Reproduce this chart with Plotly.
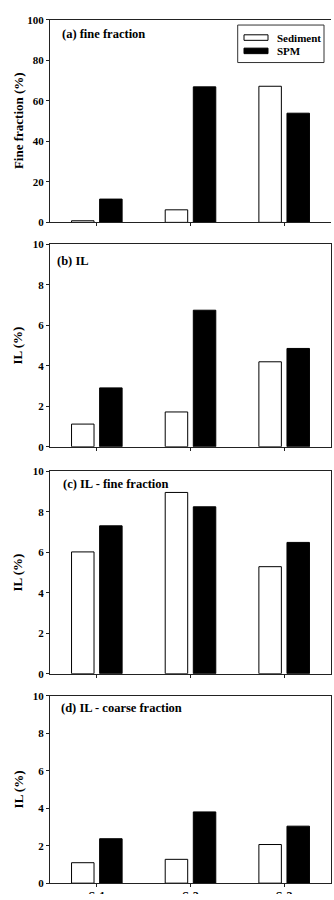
import plotly.graph_objects as go

categories = ["S-1", "S-2", "S-3"]
series_names = ["Sediment", "SPM"]

fine_fraction_sed = [0.8, 6.2, 67.2]
fine_fraction_spm = [11.5, 66.9, 53.9]
il_sed = [1.12, 1.72, 4.20]
il_spm = [2.91, 6.75, 4.86]
il_fine_sed = [6.02, 8.96, 5.29]
il_fine_spm = [7.31, 8.25, 6.49]
il_coarse_sed = [1.09, 1.27, 2.06]
il_coarse_spm = [2.37, 3.80, 3.04]

panel_titles = ["(a) fine fraction", "(b) IL", "(c) IL - fine fraction", "(d) IL - coarse fraction"]
y_titles = ["Fine fraction (%)", "IL (%)", "IL (%)", "IL (%)"]
y_ticks = [[0, 20, 40, 60, 80, 100], [0, 2, 4, 6, 8, 10], [0, 2, 4, 6, 8, 10], [0, 2, 4, 6, 8, 10]]
y_ranges = [[0, 100], [0, 10], [0, 10], [0, 10]]

panels = [
    (fine_fraction_sed, fine_fraction_spm),
    (il_sed, il_spm),
    (il_fine_sed, il_fine_spm),
    (il_coarse_sed, il_coarse_spm),
]

W, H = 334, 900
L, R = 50, 3
# pixel top/bottom of each panel
panel_px = [(14, 219.3), (241.7, 446.7), (471.7, 676.7), (699, 889)]
title_px = [(59.5, 28), (55, 258.5), (60.5, 484.3), (58.5, 711.7)]

FONT = "Liberation Serif"

fig = go.Figure()
layout = dict(
    width=W, height=H,
    margin=dict(l=L, r=R, t=0, b=0),
    paper_bgcolor="white", plot_bgcolor="white",
    showlegend=False, barmode="overlay",
    font=dict(family=FONT, size=11, color="black", weight="bold"),
)
annotations = []
shapes = []

for i, (sed, spm) in enumerate(panels):
    n = i + 1
    xa = "x" if n == 1 else f"x{n}"
    ya = "y" if n == 1 else f"y{n}"
    fig.add_trace(go.Bar(x=categories, y=sed, name=series_names[0], xaxis=xa, yaxis=ya,
                         width=0.24, offset=-0.27,
                         marker=dict(color="white", line=dict(color="black", width=1))))
    fig.add_trace(go.Bar(x=categories, y=spm, name=series_names[1], xaxis=xa, yaxis=ya,
                         width=0.24, offset=0.03,
                         marker=dict(color="black", line=dict(color="black", width=1))))
    top, bot = panel_px[i]
    dom = [1 - bot / H, 1 - top / H]
    layout[f"xaxis{'' if n == 1 else n}"] = dict(
        domain=[0, 1], anchor=ya, range=[-0.5, 2.5], type="category",
        showline=True, linecolor="#222", linewidth=1, mirror=True,
        ticks="outside", ticklen=3, tickcolor="#222", tickwidth=1,
        showgrid=False, zeroline=False, fixedrange=True,
        showticklabels=False,
    )
    layout[f"yaxis{'' if n == 1 else n}"] = dict(
        domain=dom, anchor=xa, range=y_ranges[i], tickvals=y_ticks[i],
        showline=True, linecolor="#222", linewidth=1, mirror=(n != 1),
        ticks="outside", ticklen=3, tickcolor="#222", tickwidth=1,
        showgrid=False, zeroline=False, fixedrange=True,
        tickfont=dict(size=11, family=FONT, weight="bold"),
    )
    tx, ty = title_px[i]
    annotations.append(dict(
        text=panel_titles[i], xref="paper", yref="paper",
        x=(tx - L) / (W - L - R), y=1 - ty / H, xanchor="left", yanchor="middle",
        showarrow=False, font=dict(size=12.5, family=FONT, weight="bold"),
    ))
    annotations.append(dict(
        text=y_titles[i], xref="paper", yref="paper", textangle=-90,
        x=(18 - L) / (W - L - R), y=1 - (top + bot) / 2 / H, xanchor="center", yanchor="middle",
        showarrow=False, font=dict(size=13, family=FONT, weight="bold"),
    ))

# category labels of the bottom panel: only their tops fall inside the page,
# drawn in a thin strip clipped at the page bottom
strip_top = 894
fig.add_trace(go.Scatter(x=categories, y=[-0.45] * len(categories), mode="text", text=categories,
                         textfont=dict(size=12, family=FONT, weight="bold", color="black"),
                         xaxis="x5", yaxis="y5", cliponaxis=True, hoverinfo="skip"))
layout["xaxis5"] = dict(domain=[0, 1], anchor="y5", range=[-0.5, 2.5], type="category",
                        visible=False, fixedrange=True)
layout["yaxis5"] = dict(domain=[0, 1 - strip_top / H], anchor="x5", range=[0, 1],
                        visible=False, fixedrange=True)

# legend drawn in panel (a)
def px_x(px):
    return (px - L) / (W - L - R)

def px_y(py):
    return 1 - py / H

shapes.append(dict(type="rect", xref="paper", yref="paper",
                   x0=px_x(237.7), x1=px_x(324), y0=px_y(57.3), y1=px_y(19.3),
                   line=dict(color="#333", width=1), fillcolor="white"))
legend_rows = [(series_names[0], "white", 32), (series_names[1], "black", 45.5)]
for name, col, cy in legend_rows:
    shapes.append(dict(type="rect", xref="paper", yref="paper",
                       x0=px_x(244), x1=px_x(268), y0=px_y(cy + 2.8), y1=px_y(cy - 2.8),
                       line=dict(color="black", width=1), fillcolor=col))
    annotations.append(dict(text=name, xref="paper", yref="paper",
                            x=px_x(275), y=px_y(cy), xanchor="left", yanchor="middle",
                            showarrow=False, font=dict(size=11, family=FONT, weight="bold")))

layout["annotations"] = annotations
layout["shapes"] = shapes
fig.update_layout(**layout)
fig.write_html("out.html")
